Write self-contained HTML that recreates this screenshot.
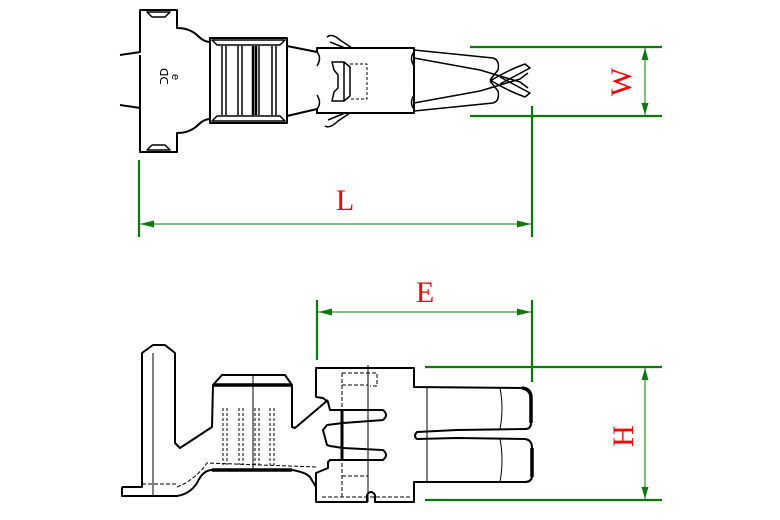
<!DOCTYPE html>
<html><head><style>html,body{margin:0;padding:0;background:#fff}svg{display:block}</style></head>
<body>
<svg width="780" height="520" viewBox="0 0 780 520" xmlns="http://www.w3.org/2000/svg">
<g fill="none" stroke="#000" stroke-width="2" stroke-linejoin="round">
<!-- TOP VIEW -->
<path d="M120,55 L140,52 L140,10 L177,10 L177,28 Q190,28 198,36 Q204,42 210,42 L210,38 L287,38 L287,46 L317,52 L317,48 L414,48 L414,113 L317,113 L317,109 L287,116 L287,123 L210,123 L210,119 Q204,119 198,125 Q190,133 177,133 L177,152 L140,152 L140,108 L120,105"/>
<path d="M140,55 L140,108"/>
<path d="M147,12 L170,12 L165,17 L152,17Z M147,150 L170,150 L165,145 L152,145Z" stroke-width="1.5"/>
<path d="M210,42 L210,119 M287,46 L287,116"/>
<path d="M212,40 L285,40 L280,45 L217,45 Z M212,121 L285,121 L280,116 L217,116 Z" stroke-width="1.5"/>
<path d="M222,46 V115 M226,46 V115 M238,46 V115 M242,46 V115 M259,46 V115 M272,46 V115 M276,46 V115" stroke-width="1.5"/>
<path d="M253,46 V115 M256,46 V115" stroke-width="2.5"/>
<path d="M317,52 Q322,58 317,66 M317,95 Q322,103 317,109 M414,52 Q409,58 414,66 M414,95 Q409,103 414,109" stroke-width="1.5"/>
<path d="M332,62 L344,62 L350,67 L350,96 L344,101 L332,101 L334,92 L338,88 L338,75 L334,70Z M344,62 L344,101" stroke-width="1.5"/>
<path d="M350,64 L367,64 L367,99 L350,99" stroke-dasharray="3,2" stroke-width="1"/>
<path d="M327,37 Q332,33 340,40 L352,48 M330,42 L345,48 M325,126 Q330,129 338,121 L350,113 M328,120 L345,113" stroke-width="1.5"/>
<path d="M414,50 L493,58 Q500,60 498,70 L490,80 M414,111 L493,103 Q500,101 498,91 L490,81" stroke-width="1.5"/>
<path d="M414,58 L480,70 L520,82 L528,88 M414,103 L480,91 L520,79 L528,73" stroke-width="1.5"/>
<path d="M490,81 Q508,70 525,64 L530,68 Q515,76 500,84 M490,80 Q508,91 525,97 L530,93 Q515,85 500,77" stroke-width="1.5"/>
<text x="152" y="76" font-family="Liberation Serif,serif" font-size="11" fill="#000" stroke="none" transform="rotate(90 160 76)">ᗡᑕ</text>
<text x="174" y="80" font-family="Liberation Sans,sans-serif" font-size="11" fill="#000" stroke="none" transform="rotate(90 176 76)">e</text>
<!-- SIDE VIEW -->
<path d="M122,487 L142,487 L142,353 L153,345 L165,345 L175,353 L175,443 L180,448 L212,427 L213,385 L222,375 L285,375 L292,385 L292,427 L295,428 L328,400"/>
<path d="M122,487 L122,496 L177,496 Q190,494 197,483 Q203,470 212,470 L292,470 Q305,472 310,477 L316,487"/>
<path d="M316,368 L414,368 L414,387 L522,388 Q531,389 531,398 L531,423 Q531,429 525,429 L457,430 L417,432 Q413,436 417,439 L457,438 L525,439 Q532,440 532,448 L532,477 Q531,482 525,482 L414,482 L414,502 L375,502 L375,495 Q371,489 367,495 L367,502 L316,502 L316,473 L328,468 L328,462 L330,460 L383,460 Q389,455 383,450 L343,448 L330,446 L327,445 L323,430 L327,425 L343,423 L383,420 Q389,415 383,410 L330,410 L328,402 L323,398 L316,397 Z"/>
<path d="M177,487 Q195,480 207,463 L317,467" stroke-width="1" stroke-dasharray="4,2"/>
<path d="M142,484 L177,484" stroke-width="1" stroke-dasharray="4,2"/>
<path d="M213,385 L292,385" stroke-width="3.5"/>
<path d="M212,470 L292,470" stroke-width="3.5"/>
<path d="M153,353 V496 M253,375 V470 M368,365 V502" stroke-width="1"/>
<path d="M223,408 V465 M227,408 V465 M239,408 V465 M243,408 V465 M255,408 V465 M259,408 V465 M270,408 V465 M274,408 V465" stroke-width="1" stroke-dasharray="3,2"/>
<path d="M342,411 V459" stroke-width="3"/>
<path d="M342,373 V498 M342,373 L377,373 L377,386 L370,386 M342,476 L368,476 M322,497 L410,497 M342,385 L368,385" stroke-width="1" stroke-dasharray="4,2"/>
<path d="M427,388 L427,482 M500,388 Q504,408 500,429 M500,439 Q504,460 500,482" stroke-width="1"/>
<path d="M522,388 Q531,389 531,398 L531,423 M532,448 L532,477" stroke-width="3.5"/>
</g>
<!-- DIMENSIONS -->
<g stroke="#0a7a0a" fill="none">
<path d="M470,47 H662 M470,116 H662 M139,160 V237 M532,106 V237 M317,300 V360 M532,300 V382 M425,367 H662 M425,500 H662" stroke-width="2.2"/>
<path d="M645,48 V115 M140,224 H531 M318,312 H531 M645,368 V499" stroke-width="1"/>
</g>
<g fill="#0a7a0a">
<path d="M645,48 L641.5,60 L648.5,60Z M645,115 L641.5,103 L648.5,103Z"/>
<path d="M645,368 L641.5,380 L648.5,380Z M645,499 L641.5,487 L648.5,487Z"/>
<path d="M140,224 L154,220.5 L154,227.5Z M531,224 L517,220.5 L517,227.5Z"/>
<path d="M318,312 L332,308.5 L332,315.5Z M531,312 L517,308.5 L517,315.5Z"/>
</g>
<g font-family="Liberation Serif,serif" font-size="30" fill="#f00">
<text x="345" y="210" text-anchor="middle">L</text>
<text x="425" y="302" text-anchor="middle">E</text>
<text x="0" y="0" text-anchor="middle" transform="translate(631,82) rotate(-90)">W</text>
<text x="0" y="0" text-anchor="middle" transform="translate(633,436) rotate(-90)">H</text>
</g>
</svg>
</body></html>
